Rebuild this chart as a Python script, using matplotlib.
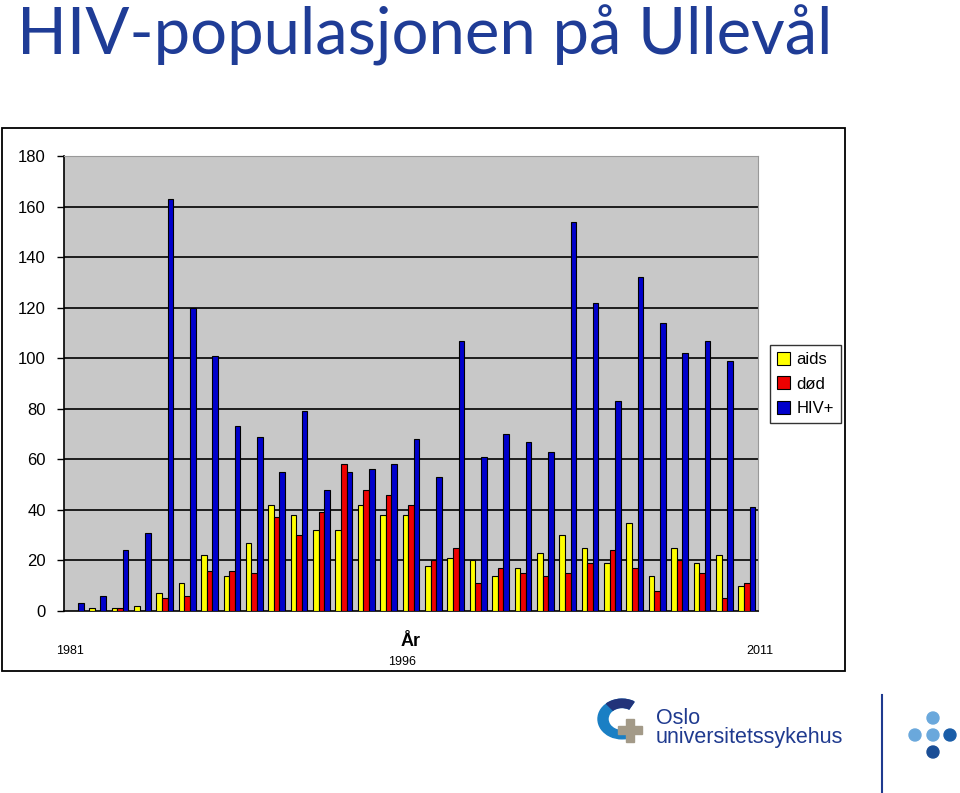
import matplotlib
matplotlib.use("Agg")
import matplotlib.pyplot as plt
import matplotlib.patches as mpatches
import numpy as np

years = list(range(1981, 2012))
aids = [0, 1, 1, 2, 7, 11, 22, 14, 27, 42, 38, 32, 32, 42, 38, 38,
        18, 21, 20, 14, 17, 23, 30, 25, 19, 35, 14, 25, 19, 22, 10]
dod = [0, 0, 1, 0, 5, 6, 16, 16, 15, 37, 30, 39, 58, 48, 46, 42,
       20, 25, 11, 17, 15, 14, 15, 19, 24, 17, 8, 20, 15, 5, 11]
hiv = [3, 6, 24, 31, 163, 120, 101, 73, 69, 55, 79, 48, 55, 56, 58, 68,
       53, 107, 61, 70, 67, 63, 154, 122, 83, 132, 114, 102, 107, 99, 41]
series_names = ["aids", "død", "HIV+"]
series_colors = ["#FFFF00", "#EE0000", "#0000CC"]
y_ticks = list(range(0, 181, 20))
year_labels = {1981: ("1981", 70, 651), 1996: ("1996", 402, 662), 2011: ("2011", 760, 651)}

plt.rcParams.update({
    "font.family": ["Liberation Sans", "DejaVu Sans"],
})

W, H = 960, 793
fig = plt.figure(figsize=(W / 100, H / 100), dpi=100)


def fx(px):
    return px / W


def fy(py):
    return 1 - py / H


# chart frame
fig.add_artist(mpatches.Rectangle((fx(2), fy(671)), fx(843), (671 - 128) / H,
                                  transform=fig.transFigure, facecolor="white",
                                  edgecolor="black", linewidth=1.3, zorder=0))

ax = fig.add_axes([fx(64), fy(611), fx(758 - 64), (611 - 156) / H])
ax.set_facecolor("#C8C8C8")

x = np.arange(len(years))
w = 0.25
for i, (vals, name, col) in enumerate(zip([aids, dod, hiv], series_names, series_colors)):
    ax.bar(x + (i - 1) * w, vals, width=w, color=col, edgecolor="black",
           linewidth=0.8, label=name, zorder=3)

ax.set_xlim(-0.5, len(years) - 0.5)
ax.set_ylim(0, 180)
ax.set_yticks(y_ticks)
ax.tick_params(axis="y", labelsize=12, length=5, width=1, pad=8)
ax.set_xticks([])
ax.hlines(y_ticks[1:-1], -0.5, len(years) - 0.5, colors="black", linewidth=1.2, zorder=1)
for s in ["top", "right"]:
    ax.spines[s].set_color("#999999")
for s in ["left", "bottom"]:
    ax.spines[s].set_linewidth(1.2)

# x labels (only first, middle and last year shown, staggered as in the original)
for yr, (lab, xpx, ypx) in year_labels.items():
    fig.text(fx(xpx), fy(ypx), lab, ha="center", va="center", fontsize=9)
fig.text(fx(411), fy(642), "År", ha="center", va="center", fontsize=13, fontweight="bold")

leg = ax.legend(loc="center left", bbox_to_anchor=(fx(770), fy(384)),
                bbox_transform=fig.transFigure, frameon=True, fancybox=False,
                edgecolor="black", fontsize=12, handlelength=0.8, handleheight=0.8,
                handletextpad=0.4, borderpad=0.4, labelspacing=0.55, borderaxespad=0)
leg.get_frame().set_linewidth(1.0)

# title
fig.text(fx(17), fy(54), "HIV-populasjonen på Ullevål", ha="left", va="baseline",
         fontsize=47, color="#1F3C96", family=["Lato", "DejaVu Sans"])

# logo
navy = "#1F3A8F"
fig.add_artist(mpatches.Wedge((fx(622), fy(719)), fx(24), 60, 300, width=fx(10),
                              transform=fig.transFigure, color="#1A7FC4"))
fig.add_artist(mpatches.Wedge((fx(622), fy(719)), fx(24), 60, 130, width=fx(10),
                              transform=fig.transFigure, color="#22337A"))
fig.add_artist(mpatches.Rectangle((fx(626), fy(742)), fx(8), 23 / H,
                                  transform=fig.transFigure, color="#A39A88"))
fig.add_artist(mpatches.Rectangle((fx(618), fy(734)), fx(24), 8 / H,
                                  transform=fig.transFigure, color="#A39A88"))
fig.text(fx(656), fy(718), "Oslo", ha="left", va="center", fontsize=15.5, color=navy)
fig.text(fx(656), fy(737), "universitetssykehus", ha="left", va="center",
         fontsize=15.5, color=navy)
fig.add_artist(plt.Line2D([fx(882), fx(882)], [fy(695), fy(793)],
                          transform=fig.transFigure, color=navy, linewidth=1.5))
for cx, cy, c in [(933, 718, "#6AA8DC"), (915, 735, "#6AA8DC"), (933, 735, "#6AA8DC"),
                  (950, 735, "#1A5DA8"), (933, 752, "#1A4E96")]:
    fig.add_artist(mpatches.Ellipse((fx(cx), fy(cy)), fx(12), 12 / H,
                                    transform=fig.transFigure, color=c))

fig.savefig("out.png", dpi=100)
